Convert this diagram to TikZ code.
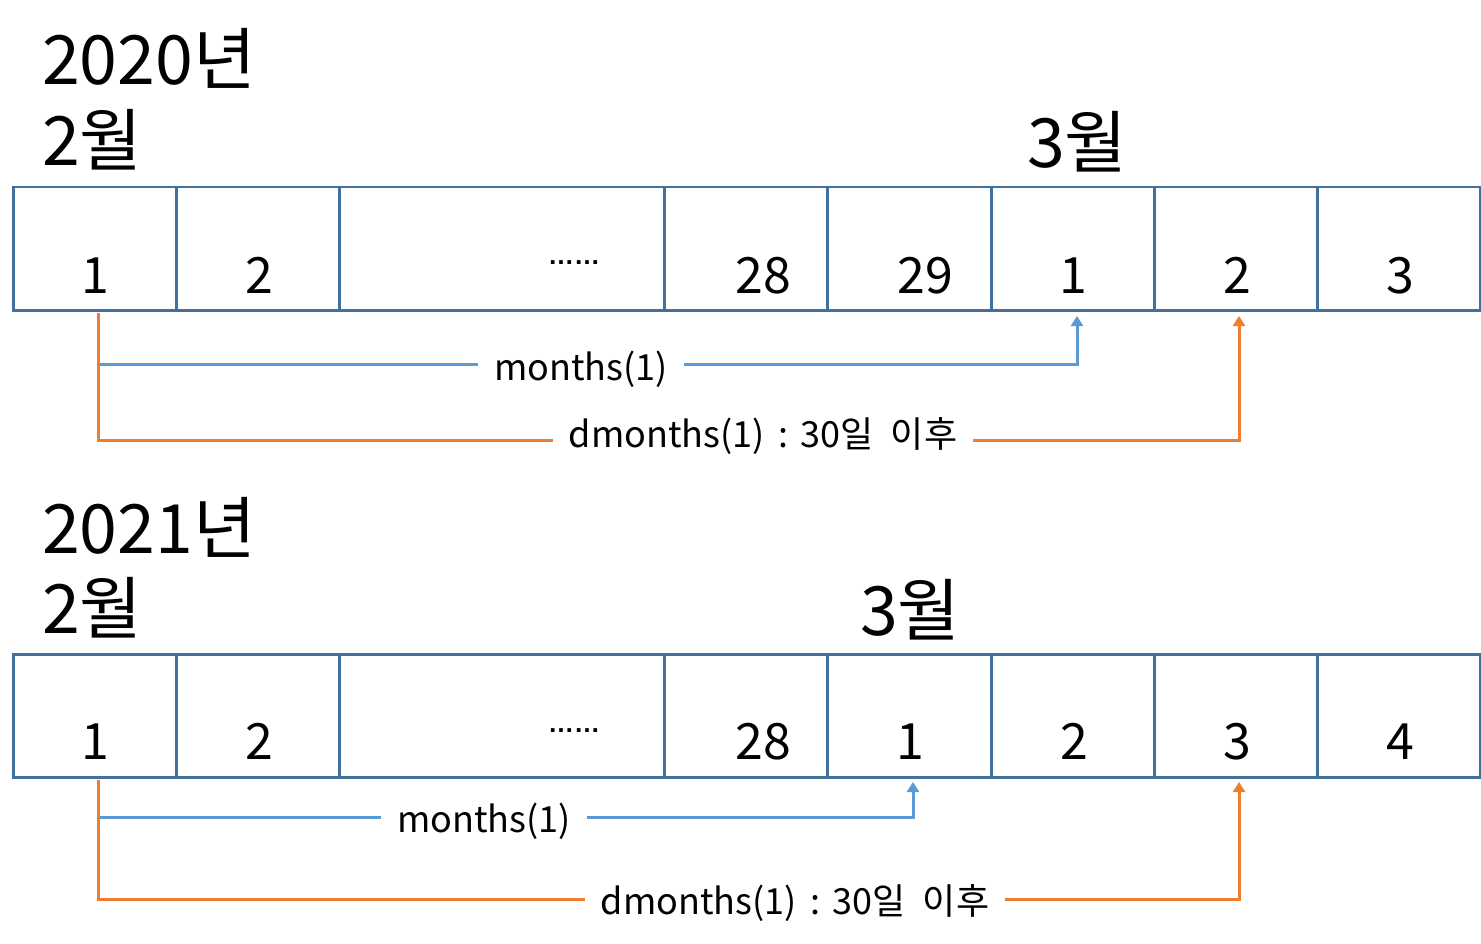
\documentclass[tikz,border=0pt]{standalone}
\usepackage{fontspec}
\setmainfont{Noto Sans CJK KR}
\newfontfamily\dotfont{Liberation Sans}
\usetikzlibrary{arrows.meta}
\definecolor{boxc}{HTML}{41719C}
\definecolor{bluec}{HTML}{5B9BD5}
\definecolor{orangec}{HTML}{ED7D31}
\newcommand{\dlabel}{dmonths(1)\hspace{14pt}:\hspace{12pt}30일\hspace{17pt}이후}
\tikzset{
  cell/.style={draw=boxc, line width=2.5pt, minimum height=123pt, inner sep=0pt, anchor=north west},
  num/.style={anchor=base, font=\fontsize{50}{60}\selectfont, inner sep=0pt},
  title/.style={anchor=base west, font=\fontsize{68}{80}\selectfont, inner sep=0pt},
  lab/.style={anchor=base, font=\fontsize{36}{44}\selectfont, fill=white, inner xsep=16pt, inner ysep=4pt},
  dots/.style={anchor=base, inner sep=0pt, font=\dotfont\bfseries\fontsize{26}{30}\selectfont},
  bconn/.style={draw=bluec, line width=3pt, -{Triangle[width=12pt,length=10pt]}},
  oconn/.style={draw=orangec, line width=3pt, -{Triangle[width=12pt,length=10pt]}},
}
\begin{document}
\begin{tikzpicture}[x=1pt,y=-1pt]
\useasboundingbox (0,0) rectangle (1481,944);
% ---------- top (2020) ----------
\node[title] (y1) at (42,85) {2020년};
\node[title] (m1a) at (42,166) {2월};
\node[title] (m1b) at (1027,168) {3월};
\foreach \n/\x/\w in {a1/12/163,a2/175/163,a3/338/325,a4/663/163,a5/826/164,a6/990/163,a7/1153/163,a8/1316/163}{
  \node[cell, minimum width=\w pt] (\n) at (\x,186) {};
}
\node[num] (t1) at (95,293) {1};
\node[num] (t2) at (259,293) {2};
\node[dots] (tdots) at (574,265) {……};
\node[num] (t3) at (763,293) {28};
\node[num] (t4) at (925,293) {29};
\node[num] (t5) at (1073,293) {1};
\node[num] (t6) at (1237,293) {2};
\node[num] (t7) at (1400,293) {3};
\coordinate (ob1) at (98,313);
\coordinate (ob1c) at (98,440);
\coordinate (oe1) at (1239,316);
\coordinate (bb1) at (100,364);
\coordinate (be1) at (1077,316);
\draw[oconn] (ob1) -- (ob1c) -- (oe1 |- ob1c) -- (oe1);
\draw[bconn] (bb1) -- (be1 |- bb1) -- (be1);
\node[lab] (l1) at (581,380) {months(1)};
\node[lab] (l2) at (763,447) {\dlabel};
% ---------- bottom (2021) ----------
\node[title] (y2) at (42,553) {2021년};
\node[title] (m2a) at (42,633) {2월};
\node[title] (m2b) at (860,635) {3월};
\foreach \n/\x/\w in {b1/12/163,b2/175/163,b3/338/325,b4/663/163,b5/826/164,b6/990/163,b7/1153/163,b8/1316/163}{
  \node[cell, minimum width=\w pt] (\n) at (\x,653) {};
}
\node[num] (s1) at (95,759) {1};
\node[num] (s2) at (259,759) {2};
\node[dots] (sdots) at (574,732) {……};
\node[num] (s3) at (763,759) {28};
\node[num] (s4) at (910,759) {1};
\node[num] (s5) at (1074,759) {2};
\node[num] (s6) at (1237,759) {3};
\node[num] (s7) at (1400,759) {4};
\coordinate (ob2) at (98,780);
\coordinate (ob2c) at (98,899);
\coordinate (oe2) at (1239,782);
\coordinate (bb2) at (100,817);
\coordinate (be2) at (913,782);
\draw[oconn] (ob2) -- (ob2c) -- (oe2 |- ob2c) -- (oe2);
\draw[bconn] (bb2) -- (be2 |- bb2) -- (be2);
\node[lab] (l3) at (484,832) {months(1)};
\node[lab] (l4) at (795,914) {\dlabel};
\end{tikzpicture}
\end{document}
